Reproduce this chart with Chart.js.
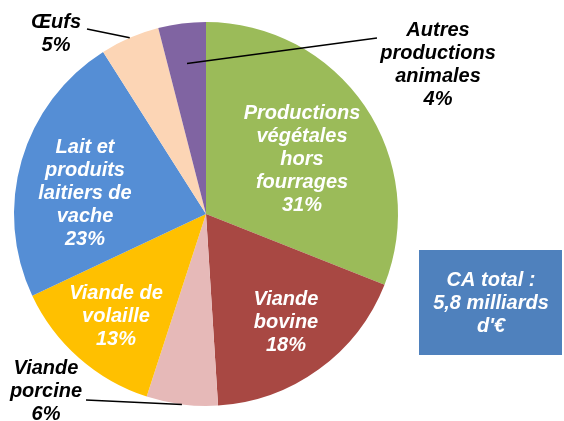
<!DOCTYPE html>
<html>
<head>
<meta charset="utf-8">
<script src="https://cdn.jsdelivr.net/npm/chart.js@4"></script>
<style>
  html, body { margin: 0; padding: 0; background: #fff; }
  #wrap { position: relative; width: 564px; height: 421px; }
</style>
</head>
<body>
<div id="wrap"><canvas id="pie" width="564" height="421"></canvas></div>
<script>
// data (clockwise from top)
const categories = [
  ['Productions', 'végétales', 'hors', 'fourrages'],
  ['Viande', 'bovine'],
  ['Viande', 'porcine'],
  ['Viande de', 'volaille'],
  ['Lait et', 'produits', 'laitiers de', 'vache'],
  ['Œufs'],
  ['Autres', 'productions', 'animales']
];
const shares = [31, 18, 6, 13, 23, 5, 4];
const colors = ['#9BBB59', '#A84843', '#E6B9B8', '#FFC000', '#558ED5', '#FCD5B5', '#8064A2'];
const totalText = ['CA total :', '5,8 milliards', "d'€"];

// where each label sits (text centre) and whether it has a leader line
const labelPlace = [
  { x: 302, y: 159, color: '#fff' },
  { x: 286, y: 322, color: '#fff' },
  { x: 46, y: 391, color: '#000', lineTo: { x: 86, y: 400 }, lineR: 1.0 },
  { x: 116, y: 316, color: '#fff' },
  { x: 85, y: 193, color: '#fff' },
  { x: 56, y: 34, color: '#000', lineTo: { x: 87, y: 29 }, lineR: 1.0 },
  { x: 438, y: 65, color: '#000', lineTo: { x: 377, y: 38 }, lineR: 0.79 }
];

const FONT = 'italic bold 20px "Liberation Sans", Arial, sans-serif';
const LINE_H = 23;

const labelPlugin = {
  id: 'sliceLabels',
  afterDraw(chart) {
    const ctx = chart.ctx;
    const arcs = chart.getDatasetMeta(0).data;
    ctx.save();
    arcs.forEach((arc, i) => {
      const p = labelPlace[i];
      if (p.lineTo) {
        const mid = (arc.startAngle + arc.endAngle) / 2;
        const r = arc.outerRadius * p.lineR;
        ctx.beginPath();
        ctx.moveTo(arc.x + Math.cos(mid) * r, arc.y + Math.sin(mid) * r);
        ctx.lineTo(p.lineTo.x, p.lineTo.y);
        ctx.strokeStyle = '#000';
        ctx.lineWidth = 1.5;
        ctx.stroke();
      }
      const lines = categories[i].concat([shares[i] + '%']);
      ctx.font = FONT;
      ctx.fillStyle = p.color;
      ctx.textAlign = 'center';
      ctx.textBaseline = 'middle';
      const top = p.y - (lines.length - 1) * LINE_H / 2;
      lines.forEach((t, k) => ctx.fillText(t, p.x, top + k * LINE_H));
    });

    // total box
    ctx.fillStyle = '#4F81BD';
    ctx.fillRect(419, 250, 143, 105);
    ctx.fillStyle = '#fff';
    ctx.font = FONT;
    totalText.forEach((t, k) => ctx.fillText(t, 491, 280 + k * LINE_H));
    ctx.restore();
  }
};

new Chart(document.getElementById('pie'), {
  type: 'pie',
  data: {
    labels: categories.map(c => c.join(' ')),
    datasets: [{
      data: shares,
      backgroundColor: colors,
      borderWidth: 0
    }]
  },
  options: {
    responsive: false,
    animation: false,
    layout: { padding: { left: 14, right: 166, top: 22, bottom: 15 } },
    plugins: {
      legend: { display: false },
      tooltip: { enabled: false }
    }
  },
  plugins: [labelPlugin]
});
</script>
</body>
</html>
